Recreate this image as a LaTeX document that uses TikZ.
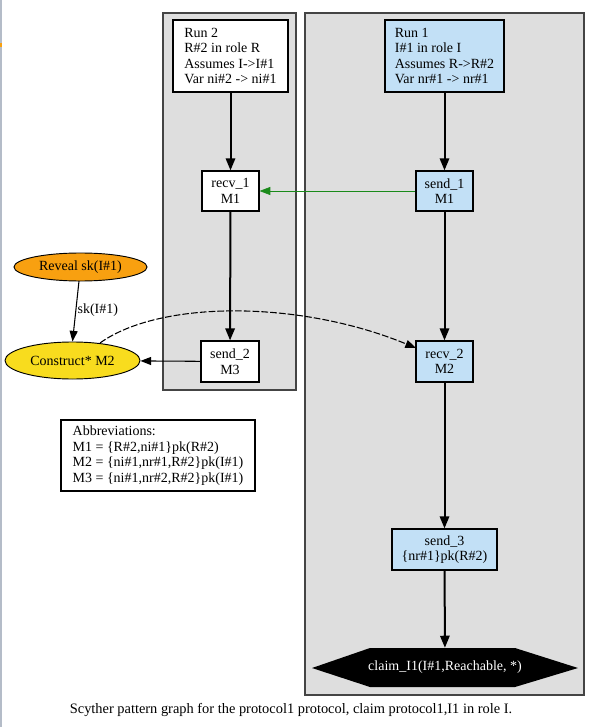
\documentclass[tikz,border=0pt]{standalone}
\usepackage{fontspec}
\setmainfont{Liberation Serif}
\usetikzlibrary{arrows.meta,shapes.geometric}
\definecolor{clusterfill}{HTML}{DEDEDE}
\definecolor{clusterline}{HTML}{444444}
\definecolor{runblue}{HTML}{C2E0F6}
\definecolor{revealorange}{HTML}{F8A010}
\definecolor{constructyellow}{HTML}{F8DC1E}
\definecolor{edgegreen}{HTML}{1A8A1A}
\definecolor{edgegrey}{HTML}{B4BCC8}
\tikzset{
  every node/.style={font=\fontsize{10.5pt}{11.6pt}\selectfont, inner sep=0pt},
  cluster/.style={draw=clusterline, fill=clusterfill, line width=0.9pt},
  box/.style={draw=black, line width=0.9pt, fill=white, align=center},
  bluebox/.style={box, fill=runblue},
  runbox/.style={draw=black, line width=0.9pt, align=left, minimum height=54pt},
  oval/.style={ellipse, draw=black, line width=0.7pt},
  mainedge/.style={line width=1.5pt, -{Triangle[length=9pt,width=7pt]}},
  thinedge/.style={line width=0.8pt, -{Triangle[length=8pt,width=6pt]}},
  greenedge/.style={draw=edgegreen, line width=0.45pt, -{Triangle[length=8pt,width=6pt]}},
  dashedge/.style={line width=0.8pt, dash pattern=on 5pt off 1.6pt, -{Triangle[length=8pt,width=6pt]}},
}
\begin{document}
\begin{tikzpicture}[x=0.75pt,y=-0.75pt]
\useasboundingbox (0,0) rectangle (591,727);
% left screen edge
\fill[edgegrey] (0,0) rectangle (1.5,727);
\fill[revealorange] (0,43) rectangle (1.5,47);
% clusters
\draw[cluster] (163,13) rectangle (296,390);
\draw[cluster] (305,13) rectangle (584,695);
% run 2 (role R)
\node[runbox, fill=white, minimum width=86.25pt] (run2) at (230.5,56)
  {Run 2\\R\#2 in role R\\Assumes I->I\#1\\Var ni\#2 -> ni\#1};
\node[box, minimum width=42.75pt, minimum height=30pt] (recv1) at (230.5,191) {recv\_1\\M1};
\node[box, minimum width=43.5pt, minimum height=30.75pt] (send2) at (230,361.5) {send\_2\\M3};
% run 1 (role I)
\node[runbox, fill=runblue, minimum width=89.25pt] (run1) at (444.5,56)
  {Run 1\\I\#1 in role I\\Assumes R->R\#2\\Var nr\#1 -> nr\#1};
\node[bluebox, minimum width=42.75pt, minimum height=30pt] (send1) at (444.5,191) {send\_1\\M1};
\node[bluebox, minimum width=42.75pt, minimum height=30.75pt] (recv2) at (444.5,361.5) {recv\_2\\M2};
\node[bluebox, minimum width=78.75pt, minimum height=30.75pt] (send3) at (444.5,549.5) {send\_3\\\{nr\#1\}pk(R\#2)};
% claim hexagon
\fill[black] (312,668) -- (370,648) -- (515,648) -- (578,668) -- (515,687) -- (370,687) -- cycle;
\node[minimum width=198.75pt, minimum height=29.25pt, text=white] (claim) at (445,667.5) {claim\_I1(I\#1,Reachable, *)};
% intruder nodes
\node[oval, fill=revealorange, minimum width=99.75pt, minimum height=21pt] (reveal) at (80.5,267) {Reveal sk(I\#1)};
\node[oval, fill=constructyellow, minimum width=101.25pt, minimum height=27.75pt] (construct) at (72.5,360.5) {Construct* M2};
% abbreviations
\node[draw=black, line width=0.9pt, fill=white, align=left, minimum width=145.5pt, minimum height=53.25pt] (abbrev) at (158,455.5)
  {Abbreviations:\\M1 = \{R\#2,ni\#1\}pk(R\#2)\\M2 = \{ni\#1,nr\#1,R\#2\}pk(I\#1)\\M3 = \{ni\#1,nr\#2,R\#2\}pk(I\#1)};
% edges
\draw[mainedge] (run2) -- (recv1);
\draw[mainedge] (recv1) -- (send2);
\draw[mainedge] (run1) -- (send1);
\draw[mainedge] (send1) -- (recv2);
\draw[mainedge] (recv2) -- (send3);
\draw[mainedge] (send3) -- (claim);
\draw[greenedge] (send1) -- (recv1);
\draw[thinedge] (send2) -- (construct);
\coordinate (rv) at (79,281);
\draw[thinedge] (rv) -- (construct.north) node[midway, right=1pt, yshift=1pt] (sklab) {sk(I\#1)};
\coordinate (cstart) at (100,343);
\coordinate (cend) at (416,348);
\draw[dashedge] (cstart) .. controls (160,300) and (300,300) .. (cend);
% caption
\node[font=\fontsize{10.8pt}{12pt}\selectfont] (caption) at (291,710) {Scyther pattern graph for the protocol1 protocol, claim protocol1,I1 in role I.};
\end{tikzpicture}
\end{document}
